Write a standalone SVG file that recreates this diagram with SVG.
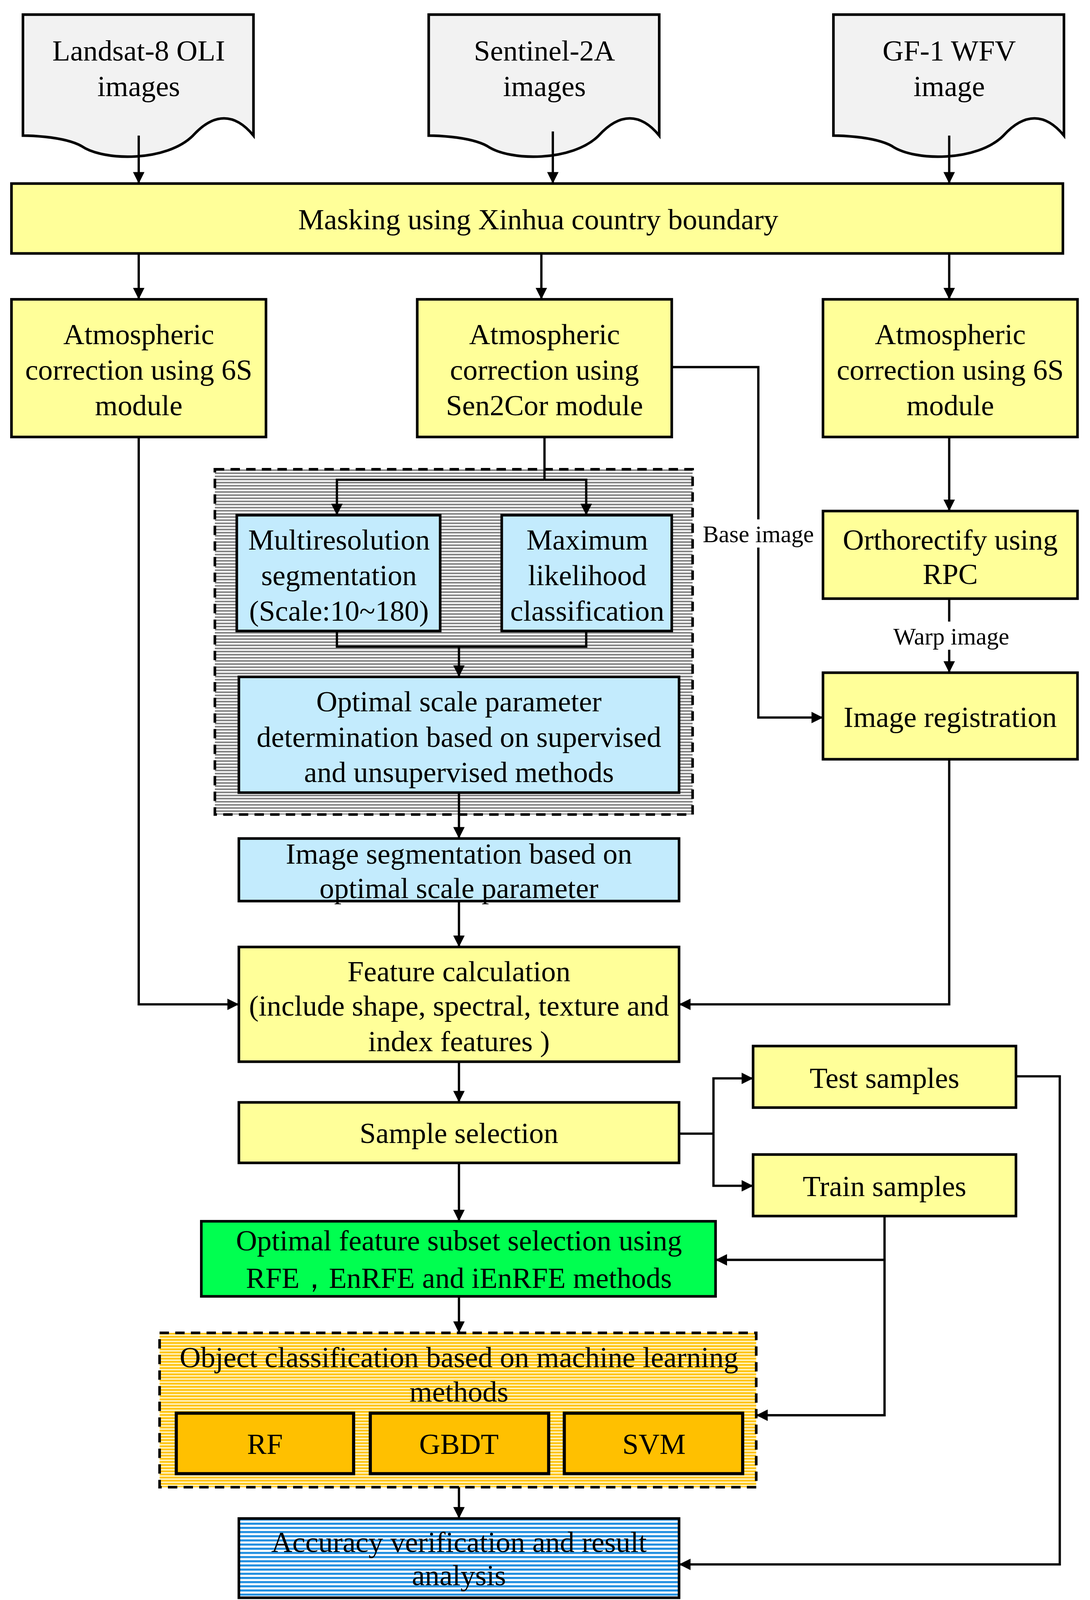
<svg xmlns="http://www.w3.org/2000/svg" width="2790" height="4186" viewBox="0 0 2790 4186">
<style>
text{font-family:"Liberation Serif","Times New Roman",serif;font-size:28px;fill:#000;text-anchor:middle}
.y{fill:#ffff99;stroke:#000;stroke-width:2.5}
.b{fill:#c3ebfd;stroke:#000;stroke-width:2.5}
.d{fill:#f2f2f2;stroke:#000;stroke-width:2.5}
.o{fill:#ffc000;stroke:#000;stroke-width:3}
.c{fill:none;stroke:#000;stroke-width:2.2}
.l{font-size:23px}
</style>
<defs>
<marker id="a" viewBox="0 0 10 10" refX="10" refY="5" markerWidth="13" markerHeight="11" orient="auto" markerUnits="userSpaceOnUse"><path d="M0,0L10,5L0,10z" fill="#000"/></marker>
<pattern id="pg" width="6" height="3" patternUnits="userSpaceOnUse"><rect width="6" height="3" fill="#fff"/><rect width="6" height="1.5" fill="#808080"/></pattern>
<pattern id="po" width="6" height="3" patternUnits="userSpaceOnUse"><rect width="6" height="3" fill="#fff3c0"/><rect width="6" height="1.5" fill="#ffc000"/></pattern>
<pattern id="pb" width="6" height="4" patternUnits="userSpaceOnUse"><rect width="6" height="4" fill="#fff"/><rect width="6" height="2" fill="#1f8ee0"/></pattern>
</defs>
<rect width="2790" height="4186" fill="#fff"/>
<g transform="scale(2.6699)">
<g id="grp-seg"><rect x="206" y="450" width="458" height="331" fill="url(#pg)" stroke="#000" stroke-width="2.5" stroke-dasharray="9,6"/></g>
<g id="grp-cls"><rect x="153" y="1278" width="572" height="148" fill="url(#po)" stroke="#000" stroke-width="2.5" stroke-dasharray="9,6"/><text x="440" y="1311">Object classification  based on machine learning</text><text x="440" y="1344">methods</text></g>

<g id="doc1"><path class="d" d="M22,14H243V130C225,108 205,108 185,130C160,155 100,155 78,140C60,130 22,130 22,130Z"/><text x="133" y="58">Landsat-8 OLI</text><text x="133" y="92">images</text></g>
<g id="doc2"><path class="d" d="M411,14H632V130C614,108 594,108 574,130C549,155 489,155 467,140C449,130 411,130 411,130Z"/><text x="522" y="58">Sentinel-2A</text><text x="522" y="92">images</text></g>
<g id="doc3"><path class="d" d="M799,14H1020V130C1002,108 982,108 962,130C937,155 877,155 855,140C837,130 799,130 799,130Z"/><text x="910" y="58">GF-1 WFV</text><text x="910" y="92">image</text></g>
<g id="mask"><rect class="y" x="11" y="176" width="1008" height="67"/><text x="516" y="220">Masking using Xinhua country boundary</text></g>
<g id="atm1"><rect class="y" x="11" y="287" width="244" height="132"/><text x="133" y="330">Atmospheric</text><text x="133" y="364">correction using 6S</text><text x="133" y="398">module</text></g>
<g id="atm2"><rect class="y" x="400" y="287" width="244" height="132"/><text x="522" y="330">Atmospheric</text><text x="522" y="364">correction using</text><text x="522" y="398">Sen2Cor module</text></g>
<g id="atm3"><rect class="y" x="789" y="287" width="244" height="132"/><text x="911" y="330">Atmospheric</text><text x="911" y="364">correction using 6S</text><text x="911" y="398">module</text></g>
<g id="multi"><rect class="b" x="227" y="494" width="195" height="111"/><text x="325" y="527">Multiresolution</text><text x="325" y="561">segmentation</text><text x="325" y="595">(Scale:10~180)</text></g>
<g id="maxl"><rect class="b" x="481" y="494" width="163" height="111"/><text x="563" y="527">Maximum</text><text x="563" y="561">likelihood</text><text x="563" y="595">classification</text></g>
<g id="opt"><rect class="b" x="229" y="649" width="422" height="111"/><text x="440" y="682">Optimal scale parameter</text><text x="440" y="716">determination based on supervised</text><text x="440" y="750">and unsupervised methods</text></g>
<g id="ortho"><rect class="y" x="789" y="490" width="244" height="84"/><text x="911" y="527">Orthorectify using</text><text x="911" y="560">RPC</text></g>
<g id="reg"><rect class="y" x="789" y="645" width="244" height="83"/><text x="911" y="697">Image registration</text></g>
<g id="imseg"><rect class="b" x="229" y="804" width="422" height="60"/><text x="440" y="828">Image segmentation based on</text><text x="440" y="861">optimal scale parameter</text></g>
<g id="feat"><rect class="y" x="229" y="908" width="422" height="110"/><text x="440" y="941">Feature calculation</text><text x="440" y="974">(include shape, spectral, texture and</text><text x="440" y="1008">index features )</text></g>
<g id="test"><rect class="y" x="722" y="1003" width="252" height="59"/><text x="848" y="1043">Test samples</text></g>
<g id="samp"><rect class="y" x="229" y="1057" width="422" height="58"/><text x="440" y="1096">Sample selection</text></g>
<g id="train"><rect class="y" x="722" y="1107" width="252" height="59"/><text x="848" y="1147">Train samples</text></g>
<g id="fsel"><rect x="193" y="1171" width="493" height="72" fill="#00ff50" stroke="#000" stroke-width="2.5"/><text x="440" y="1199">Optimal feature subset selection  using</text><text x="440" y="1235">RFE，EnRFE and iEnRFE methods</text></g>
<g id="rf"><rect class="o" x="169" y="1355" width="170" height="58"/><text x="254" y="1394">RF</text></g>
<g id="gbdt"><rect class="o" x="355" y="1355" width="171" height="58"/><text x="440" y="1394">GBDT</text></g>
<g id="svm"><rect class="o" x="541" y="1355" width="171" height="58"/><text x="627" y="1394">SVM</text></g>
<g id="acc"><rect x="229" y="1456" width="422" height="76" fill="url(#pb)" stroke="#000" stroke-width="2.5"/><text x="440" y="1488">Accuracy verification and result</text><text x="440" y="1520">analysis</text></g>

<g id="connectors">
<path class="c" marker-end="url(#a)" d="M133,130V176"/>
<path class="c" marker-end="url(#a)" d="M530,126V176"/>
<path class="c" marker-end="url(#a)" d="M910,130V176"/>
<path class="c" marker-end="url(#a)" d="M133,243V287"/>
<path class="c" marker-end="url(#a)" d="M519,243V287"/>
<path class="c" marker-end="url(#a)" d="M910,243V287"/>
<path class="c" marker-end="url(#a)" d="M133,419V963H229"/>
<path class="c" d="M522,419V460"/>
<path class="c" marker-end="url(#a)" d="M522,460H323V494"/>
<path class="c" marker-end="url(#a)" d="M522,460H562V494"/>
<path class="c" marker-end="url(#a)" d="M644,352H727V688H789"/>
<path class="c" marker-end="url(#a)" d="M910,419V490"/>
<path class="c" marker-end="url(#a)" d="M910,574V645"/>
<path class="c" d="M323,605V620H562V605"/>
<path class="c" marker-end="url(#a)" d="M440,620V649"/>
<path class="c" marker-end="url(#a)" d="M440,760V804"/>
<path class="c" marker-end="url(#a)" d="M440,864V908"/>
<path class="c" marker-end="url(#a)" d="M910,728V963H651"/>
<path class="c" marker-end="url(#a)" d="M440,1018V1057"/>
<path class="c" d="M651,1087H684"/>
<path class="c" marker-end="url(#a)" d="M684,1087V1034H722"/>
<path class="c" marker-end="url(#a)" d="M684,1087V1137H722"/>
<path class="c" marker-end="url(#a)" d="M440,1115V1171"/>
<path class="c" marker-end="url(#a)" d="M848,1166V1208H686"/>
<path class="c" marker-end="url(#a)" d="M848,1208V1357H725"/>
<path class="c" marker-end="url(#a)" d="M974,1032H1016V1500H651"/>
<path class="c" marker-end="url(#a)" d="M440,1243V1278"/>
<path class="c" marker-end="url(#a)" d="M440,1426V1456"/>
</g>
<g id="labels">
<rect x="667" y="498" width="120" height="27" fill="#fff"/><text class="l" x="727" y="520">Base image</text>
<rect x="849" y="596" width="126" height="27" fill="#fff"/><text class="l" x="912" y="618">Warp image</text>
</g>
</g>
</svg>
